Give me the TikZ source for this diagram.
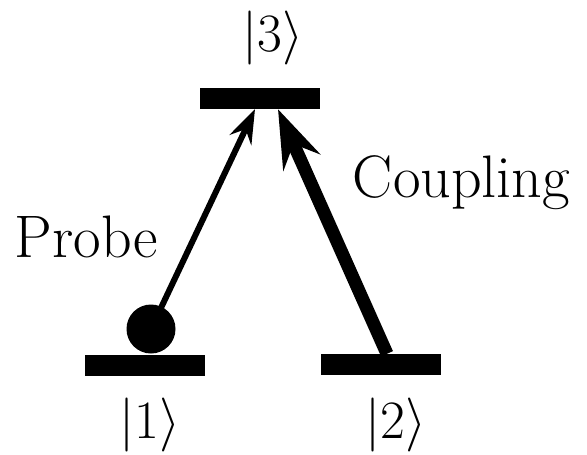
\RequirePackage{fix-cm}
\documentclass[tikz,border=0pt]{standalone}
\usepackage{fontspec}
\usetikzlibrary{arrows.meta,calc}
\begin{document}
\begin{tikzpicture}[x=1pt,y=-1pt,
  level/.style={fill=black,draw=none,minimum width=120pt,minimum height=21pt,inner sep=0pt},
  lbl/.style={inner sep=0pt,font=\fontsize{60}{72}\selectfont},
  ket/.style={inner sep=0pt,font=\fontsize{54}{64}\selectfont}]
  \useasboundingbox (0,0) rectangle (587,455);
  % energy levels
  \node[level] (l3) at (259.5,98.5) {};
  \node[level] (l1) at (145,365) {};
  \node[level] (l2) at (381,364.5) {};
  % atom resting in the ground state
  \node[circle,fill=black,minimum size=49pt,inner sep=0pt] (atom) at (151,329) {};
  % transitions
  \coordinate (ptip) at ($(l3.south)+(-4.5,0)$);
  \coordinate (ctip) at ($(l3.south)+(18.5,0)$);
  \coordinate (cbase) at ($(l2.north)+(6,0)$);
  \draw[line width=6pt,-{Stealth[length=34pt,width=24pt,inset=12pt]}] (atom.center) -- (ptip);
  \draw[line width=13pt,-{Stealth[length=58pt,width=40pt,inset=20pt]}] (cbase) -- (ctip);
  % labels
  \node[ket] (k3) at (273,38) {$|\mbox{3}\rangle$};
  \node[ket] (k1) at (150,425) {$|\mbox{1}\rangle$};
  \node[ket] (k2) at (396,425) {$|\mbox{2}\rangle$};
  \node[lbl,anchor=base] (probe) at (86.5,257) {Probe};
  \node[lbl,anchor=base] (coup) at (461.5,197) {Coupling};
\end{tikzpicture}
\end{document}
